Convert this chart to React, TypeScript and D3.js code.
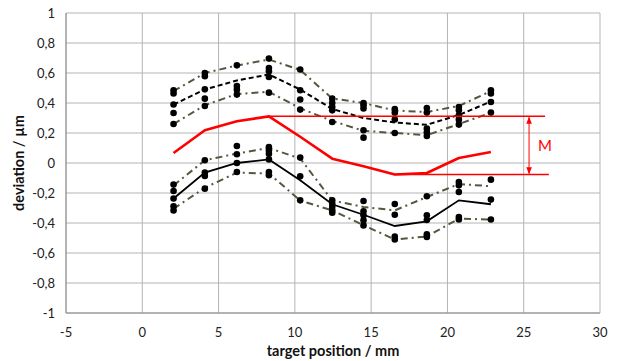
import * as d3 from "d3";

// target positions (mm) of the measured points
const positions = [2.05, 4.1, 6.2, 8.3, 10.35, 12.45, 14.5, 16.55, 18.65, 20.75, 22.85];

// upper group (forward run): mean and envelope
const upperMean = [0.39, 0.49, 0.55, 0.59, 0.49, 0.36, 0.3, 0.27, 0.255, 0.32, 0.41];
const upperHigh = [0.48, 0.6, 0.65, 0.69, 0.62, 0.43, 0.4, 0.35, 0.34, 0.38, 0.48];
const upperLow = [0.26, 0.385, 0.46, 0.475, 0.365, 0.28, 0.215, 0.2, 0.185, 0.26, 0.335];

// lower group (backward run): mean and envelope
const lowerMean = [-0.237, -0.064, 0.0, 0.024, -0.115, -0.275, -0.345, -0.42, -0.389, -0.249, -0.275];
const lowerHigh = [-0.149, 0.018, 0.063, 0.1, 0.03, -0.25, -0.293, -0.316, -0.227, -0.14, -0.155];
const lowerLow = [-0.305, -0.165, -0.064, -0.07, -0.25, -0.316, -0.415, -0.51, -0.49, -0.371, -0.377];

// mean of both runs
const centerLine = [0.067, 0.218, 0.278, 0.311, 0.175, 0.029, -0.022, -0.077, -0.067, 0.033, 0.073];

// single measurements per position
const upperDots = [
  [0.485, 0.463, 0.39, 0.333, 0.26],
  [0.6, 0.578, 0.491, 0.429, 0.38],
  [0.651, 0.513, 0.489, 0.456],
  [0.696, 0.633, 0.611, 0.573, 0.469],
  [0.623, 0.485, 0.423, 0.356],
  [0.429, 0.4, 0.373, 0.351, 0.273],
  [0.4, 0.385, 0.363, 0.218, 0.169],
  [0.36, 0.335, 0.29, 0.2],
  [0.367, 0.336, 0.229, 0.203, 0.18],
  [0.373, 0.351, 0.318, 0.289, 0.256],
  [0.485, 0.463, 0.407, 0.336],
];
const lowerDots = [
  [-0.144, -0.187, -0.237, -0.289, -0.316],
  [0.018, -0.064, -0.087, -0.171],
  [0.113, 0.058, 0.0, -0.06],
  [0.107, 0.084, 0.062, 0.024, -0.06, -0.082],
  [0.036, -0.089, -0.249],
  [-0.249, -0.27, -0.293, -0.316, -0.331],
  [-0.253, -0.322, -0.349, -0.382, -0.416],
  [-0.273, -0.345, -0.49, -0.51],
  [-0.222, -0.349, -0.38, -0.476, -0.493],
  [-0.127, -0.149, -0.193, -0.36, -0.377],
  [-0.111, -0.244, -0.377],
];

const xTicks = [-5, 0, 5, 10, 15, 20, 25, 30];
const yTicks = [-1, -0.8, -0.6, -0.4, -0.2, 0, 0.2, 0.4, 0.6, 0.8, 1];

// span annotation (M)
const mEndUpper = 26.4;
const mEndLower = 26.65;
const mArrowX = 25.35;

const W = 618;
const H = 361;
const font = "Lato, 'Open Sans', sans-serif";

export default function App() {
  const x = d3.scaleLinear().domain([-5, 30]).range([66, 600]);
  const y = d3.scaleLinear().domain([-1, 1]).range([313, 13]);

  const line = d3
    .line<[number, number]>()
    .x((d) => x(d[0]))
    .y((d) => y(d[1]));
  const path = (vals: number[]) => line(positions.map((p, i) => [p, vals[i]]) as [number, number][]) || "";

  const envColor = "#56563f";
  const dashDot = "7,4,2,4";

  const iMax = centerLine.indexOf(d3.max(centerLine)!);
  const iMin = centerLine.indexOf(d3.min(centerLine)!);
  const vMax = centerLine[iMax];
  const vMin = centerLine[iMin];

  const fmt = (v: number) => String(Math.round(v * 10) / 10).replace(".", ",");

  return (
    <div style={{ position: "absolute", left: 0, top: 0 }}>
      <svg width={W} height={H} style={{ display: "block", background: "#fff" }}>
        <defs>
          <marker id="ah" viewBox="0 0 10 10" refX="9" refY="5" markerWidth="7" markerHeight="7" orient="auto-start-reverse">
            <path d="M0,1 L10,5 L0,9 z" fill="#ff0000" />
          </marker>
        </defs>

        {/* grid */}
        {xTicks.map((t) => (
          <line key={"gx" + t} x1={x(t)} x2={x(t)} y1={y(1)} y2={y(-1)} stroke="#b4b4b4" strokeWidth={1} />
        ))}
        {yTicks.map((t) => (
          <line key={"gy" + t} x1={x(-5)} x2={x(30)} y1={y(t)} y2={y(t)} stroke="#b4b4b4" strokeWidth={1} />
        ))}
        <line x1={x(-5)} x2={x(-5)} y1={y(1)} y2={y(-1)} stroke="#8c8c8c" />
        <line x1={x(-5)} x2={x(30)} y1={y(-1)} y2={y(-1)} stroke="#8c8c8c" />

        {/* tick labels */}
        {xTicks.map((t) => (
          <text key={"tx" + t} x={x(t)} y={337} textAnchor="middle" fontFamily={font} fontSize={13} fill="#222">
            {fmt(t)}
          </text>
        ))}
        {yTicks.map((t) => (
          <text key={"ty" + t} x={55} y={y(t) + 4.5} textAnchor="end" fontFamily={font} fontSize={13} fill="#222">
            {fmt(t)}
          </text>
        ))}

        {/* axis titles */}
        <text x={333} y={356} textAnchor="middle" fontFamily={font} fontSize={14.5} fontWeight="bold" fill="#111">
          target position / mm
        </text>
        <text
          transform={`translate(24,${y(0)}) rotate(-90)`}
          textAnchor="middle"
          fontFamily={font}
          fontSize={14.5}
          fontWeight="bold"
          fill="#111"
        >
          deviation / µm
        </text>

        {/* envelopes */}
        {[upperHigh, upperLow, lowerHigh, lowerLow].map((vals, k) => (
          <path key={"env" + k} d={path(vals)} fill="none" stroke={envColor} strokeWidth={2} strokeDasharray={dashDot} />
        ))}

        {/* means */}
        <path d={path(upperMean)} fill="none" stroke="#000" strokeWidth={2} strokeDasharray="5,3" />
        <path d={path(lowerMean)} fill="none" stroke="#000" strokeWidth={1.8} />

        {/* single measurements */}
        {[upperDots, lowerDots].map((group, g) =>
          group.map((col, i) =>
            col.map((v, j) => <circle key={`d${g}-${i}-${j}`} cx={x(positions[i])} cy={y(v)} r={3.3} fill="#000" />)
          )
        )}

        {/* combined mean and span M */}
        <path d={path(centerLine)} fill="none" stroke="#ff0000" strokeWidth={2.6} strokeLinejoin="round" />
        <line x1={x(positions[iMax])} x2={x(mEndUpper)} y1={y(vMax)} y2={y(vMax)} stroke="#ff0000" strokeWidth={1.5} />
        <line x1={x(positions[iMin])} x2={x(mEndLower)} y1={y(vMin)} y2={y(vMin)} stroke="#ff0000" strokeWidth={1.5} />
        <line
          x1={x(mArrowX)}
          x2={x(mArrowX)}
          y1={y(vMax) + 1}
          y2={y(vMin) - 1}
          stroke="#ff0000"
          strokeWidth={1}
          markerStart="url(#ah)"
          markerEnd="url(#ah)"
        />
        <text x={545} y={151} textAnchor="middle" fontFamily={font} fontSize={15} fill="#ff0000">
          M
        </text>
      </svg>
    </div>
  );
}
